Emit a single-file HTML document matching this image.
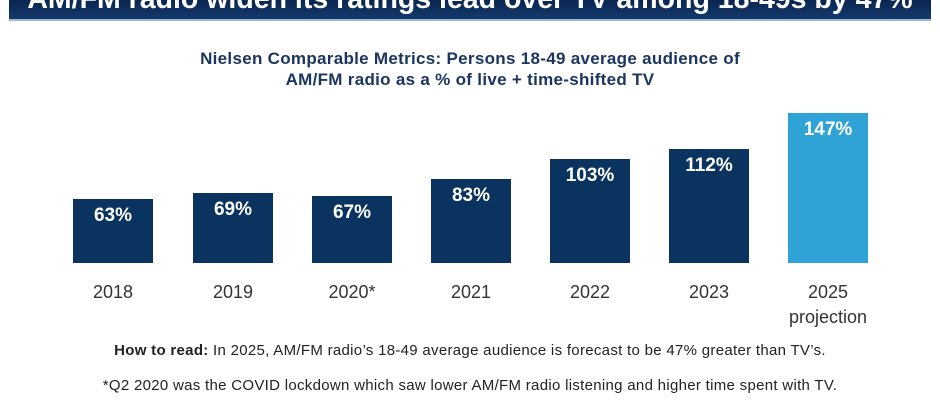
<!DOCTYPE html>
<html><head><style>
body{margin:0;width:940px;height:400px;background:#fff;position:relative;overflow:hidden;font-family:"Liberation Sans",sans-serif}
.ban{position:absolute;left:9px;top:0;width:922px;height:19px;background:linear-gradient(#0b2550,#123a6c);border-bottom:2px solid #9fb7d4;overflow:hidden}
.ban span{position:absolute;left:0;width:922px;text-align:center;top:-17px;color:#fff;font-weight:bold;font-size:28.5px;white-space:nowrap}
.t{position:absolute;left:0;width:940px;text-align:center;color:#1b3560;font-weight:bold;font-size:17px;letter-spacing:0.3px}
.bar{position:absolute;width:80px;bottom:137px;background:#0b335f;color:#fff;font-weight:bold;font-size:19px;text-align:center;padding-top:6px;box-sizing:border-box}
.lab{position:absolute;width:120px;text-align:center;color:#333;font-size:18px;top:280px;line-height:25px}
.f{position:absolute;left:0;width:940px;text-align:center;color:#222;font-size:15px;letter-spacing:0.3px;white-space:nowrap}
</style></head><body>
<div class="ban"><span>AM/FM radio widen its ratings lead over TV among 18-49s by 47%</span></div>
<div class="t" style="top:49px">Nielsen Comparable Metrics: Persons 18-49 average audience of</div>
<div class="t" style="top:70px">AM/FM radio as a % of live + time-shifted TV</div>
<div class="bar" style="left:73px;top:199px">63%</div>
<div class="bar" style="left:193px;top:193px">69%</div>
<div class="bar" style="left:312px;top:196px">67%</div>
<div class="bar" style="left:431px;top:179px">83%</div>
<div class="bar" style="left:550px;top:159px">103%</div>
<div class="bar" style="left:669px;top:149px">112%</div>
<div class="bar" style="left:788px;top:113px;background:#2fa3d6">147%</div>
<div class="lab" style="left:53px">2018</div>
<div class="lab" style="left:173px">2019</div>
<div class="lab" style="left:292px">2020*</div>
<div class="lab" style="left:411px">2021</div>
<div class="lab" style="left:530px">2022</div>
<div class="lab" style="left:649px">2023</div>
<div class="lab" style="left:768px">2025<br>projection</div>
<div class="f" style="top:342px"><b>How to read:</b> In 2025, AM/FM radio’s 18-49 average audience is forecast to be 47% greater than TV’s.</div>
<div class="f" style="top:377px">*Q2 2020 was the COVID lockdown which saw lower AM/FM radio listening and higher time spent with TV.</div>
</body></html>
